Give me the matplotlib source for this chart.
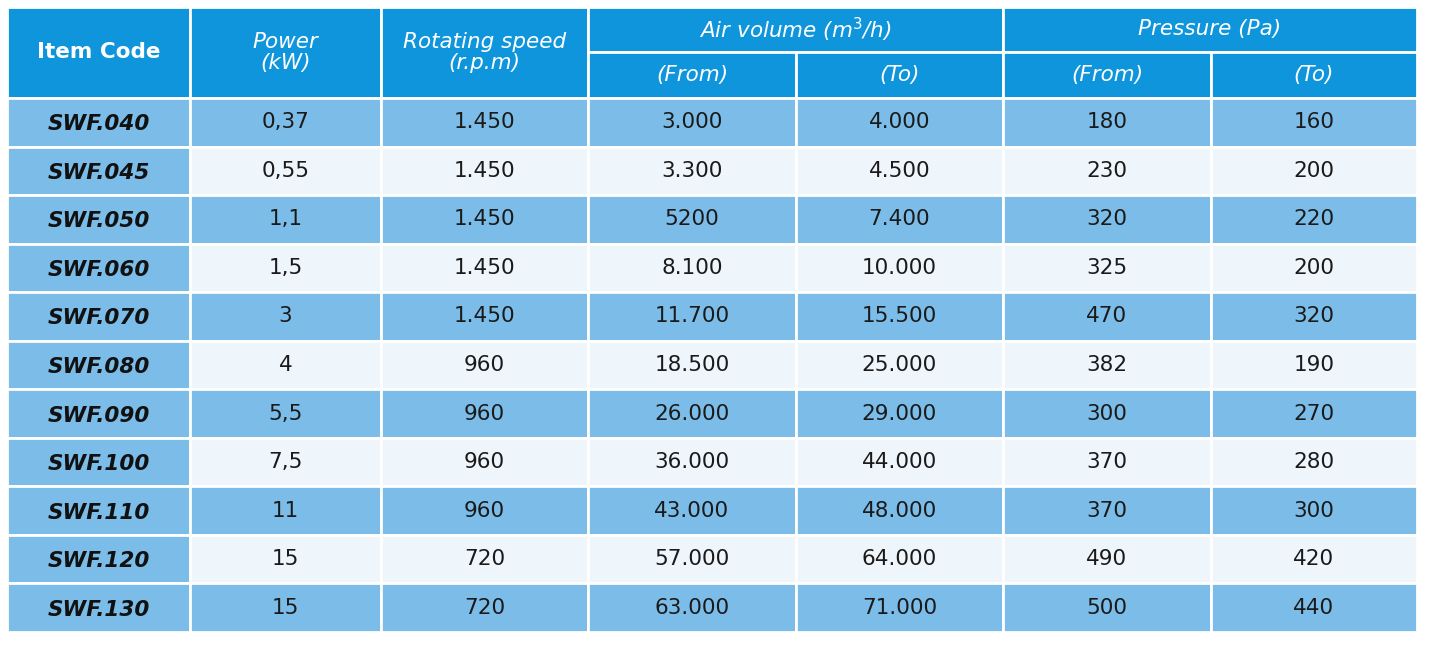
import matplotlib
matplotlib.use("Agg")
import matplotlib.pyplot as plt
from matplotlib.patches import Rectangle

codes = ["SWF.040","SWF.045","SWF.050","SWF.060","SWF.070","SWF.080","SWF.090","SWF.100","SWF.110","SWF.120","SWF.130"]
power = ["0,37","0,55","1,1","1,5","3","4","5,5","7,5","11","15","15"]
speed = ["1.450","1.450","1.450","1.450","1.450","960","960","960","960","720","720"]
air_from = ["3.000","3.300","5200","8.100","11.700","18.500","26.000","36.000","43.000","57.000","63.000"]
air_to = ["4.000","4.500","7.400","10.000","15.500","25.000","29.000","44.000","48.000","64.000","71.000"]
p_from = ["180","230","320","325","470","382","300","370","370","490","500"]
p_to = ["160","200","220","200","320","190","270","280","300","420","440"]

W, H = 1429, 647
fig = plt.figure(figsize=(W/100, H/100), dpi=100)
ax = fig.add_axes([0, 0, 1, 1])
ax.set_xlim(0, W); ax.set_ylim(H, 0); ax.axis("off")

xs = [7, 190, 381, 588, 796, 1003, 1211, 1417]
y0, y1, y2, yend = 7, 52, 98, 632
rh = (yend - y2) / len(codes)
HEAD = "#0f95db"; BLUE = "#7bbde8"; LIGHT = "#eef5fb"; WHITE = "white"
lw = 2

def cell(x0, x1, ya, yb, color):
    ax.add_patch(Rectangle((x0, ya), x1 - x0, yb - ya, facecolor=color, edgecolor=WHITE, linewidth=lw))

# header
for c in range(3):
    cell(xs[c], xs[c+1], y0, y2, HEAD)
cell(xs[3], xs[5], y0, y1, HEAD)
cell(xs[5], xs[7], y0, y1, HEAD)
for c in range(3, 7):
    cell(xs[c], xs[c+1], y1, y2, HEAD)

tk = dict(color="white", ha="center", va="center", fontsize=15.5, fontstyle="italic")
ax.text((xs[0]+xs[1])/2, (y0+y2)/2, "Item Code", color="white", ha="center", va="center", fontsize=15.5, fontweight="bold")
ax.text((xs[1]+xs[2])/2, (y0+y2)/2, "Power\n(kW)", linespacing=1.1, **tk)
ax.text((xs[2]+xs[3])/2, (y0+y2)/2, "Rotating speed\n(r.p.m)", linespacing=1.1, **tk)
ax.text((xs[3]+xs[5])/2, (y0+y1)/2, "Air volume (m$^3$/h)", **tk)
ax.text((xs[5]+xs[7])/2, (y0+y1)/2, "Pressure (Pa)", **tk)
for c, lab in zip(range(3, 7), ["(From)", "(To)", "(From)", "(To)"]):
    ax.text((xs[c]+xs[c+1])/2, (y1+y2)/2, lab, **tk)

cols = [power, speed, air_from, air_to, p_from, p_to]
for i, code in enumerate(codes):
    ya = y2 + i*rh; yb = ya + rh; ym = (ya+yb)/2
    bg = BLUE if i % 2 == 0 else LIGHT
    cell(xs[0], xs[1], ya, yb, BLUE)
    ax.text((xs[0]+xs[1])/2, ym + 2, code, ha="center", va="center", fontsize=15.5,
            fontweight="bold", fontstyle="italic", color="#111111")
    for c, col in enumerate(cols):
        cell(xs[c+1], xs[c+2], ya, yb, bg)
        ax.text((xs[c+1]+xs[c+2])/2, ym, col[i], ha="center", va="center", fontsize=15.5, color="#1a1a1a")

fig.savefig("out.png", dpi=100, facecolor="white")
